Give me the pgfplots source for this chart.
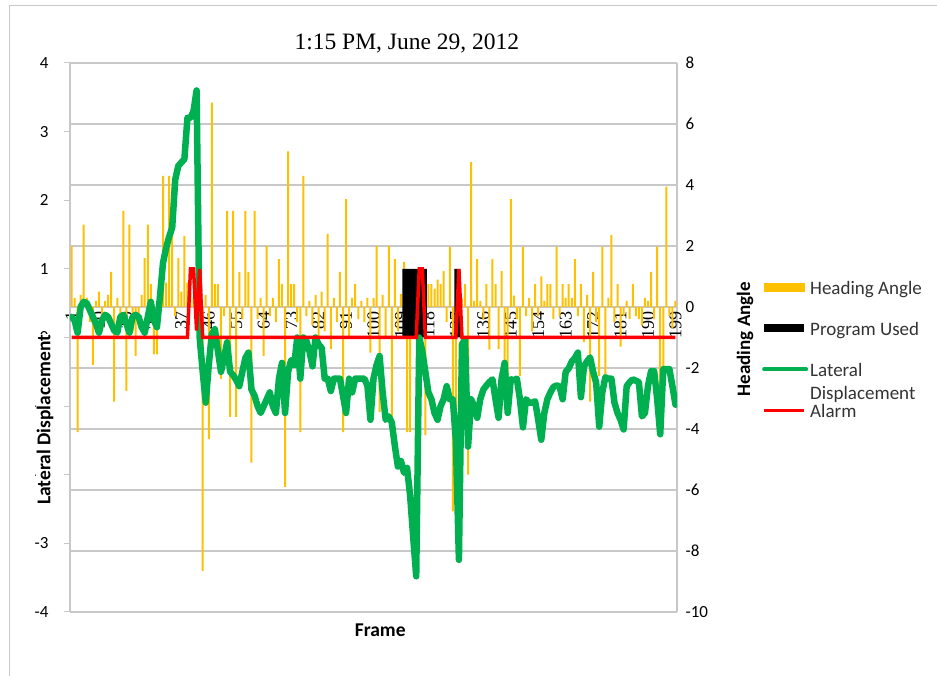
\documentclass[border=0pt]{standalone}
\usepackage{fontspec}
\setmainfont{Carlito}
\newfontfamily\timesfont{Liberation Serif}
\usepackage{pgfplots}
\pgfplotsset{compat=1.18}
\usepackage{pgfplotstable}

\definecolor{gridgray}{RGB}{200,200,200}
\definecolor{hcol}{RGB}{255,192,0}
\definecolor{lcol}{RGB}{0,176,80}
\definecolor{acol}{RGB}{255,0,0}

% frame, heading angle, lateral displacement
\pgfplotstableread{
f h l
1 2.0 0.30
2 0.3 0.25
3 -4.1 0.07
4 0.4 0.45
5 2.7 0.52
6 0.3 0.50
7 -0.5 0.40
8 -1.9 0.30
9 0.2 0.20
10 0.5 0.07
11 -0.3 0.25
12 0.2 0.33
13 0.4 0.30
14 1.15 0.20
15 -3.1 0.10
16 0.3 0.07
17 -0.4 0.30
18 3.15 0.33
19 -2.75 0.20
20 2.7 0.07
21 -0.8 0.30
22 -1.6 0.33
23 -0.6 0.30
24 0.4 0.15
25 1.6 0.07
26 2.7 0.30
27 0.75 0.52
28 -1.55 0.25
29 -1.55 0.15
30 0.3 0.60
31 4.3 1.09
32 0.8 1.30
33 4.3 1.47
34 3.9 1.60
35 -0.3 2.30
36 1.6 2.50
37 0.5 2.55
38 2.33 2.60
39 0.8 3.20
40 0.5 3.20
41 0.3 3.30
42 0.5 3.60
43 -0.5 0.00
44 -8.65 -0.50
45 0.4 -0.95
46 -4.33 -0.40
47 6.7 0.05
48 0.75 0.12
49 0.75 -0.20
50 -2.36 -0.50
51 -0.3 -0.30
52 3.15 -0.07
53 -3.6 -0.50
54 3.15 -0.55
55 -3.6 -0.62
56 1.15 -0.71
57 -0.4 -0.50
58 3.15 -0.30
59 1.15 -0.22
60 -5.1 -0.76
61 3.15 -0.85
62 -0.4 -1.00
63 0.3 -1.10
64 -1.6 -1.00
65 2.0 -0.90
66 -0.3 -0.80
67 0.3 -1.00
68 -0.5 -1.10
69 1.57 -0.60
70 0.75 -0.37
71 -5.9 -1.10
72 5.1 -0.50
73 0.75 -0.33
74 0.75 -0.40
75 -0.5 0.00
76 -4.1 -0.60
77 4.3 0.00
78 -0.3 -0.05
79 0.2 -0.20
80 -0.6 -0.42
81 0.4 0.00
82 -1.0 -0.10
83 0.5 -0.15
84 -0.8 -0.60
85 2.4 -0.60
86 -1.38 -0.78
87 0.3 -0.60
88 -0.5 -0.60
89 1.15 -0.60
90 -4.1 -0.85
91 3.54 -1.10
92 -1.0 -0.60
93 0.3 -0.80
94 0.75 -0.60
95 -0.4 -0.60
96 0.2 -0.60
97 -0.5 -0.60
98 0.3 -0.70
99 -1.5 -1.20
100 0.3 -0.60
101 2.0 -0.40
102 -3.45 -0.27
103 0.4 -0.80
104 -1.0 -1.20
105 2.0 -1.15
106 -4.0 -1.24
107 1.57 -1.58
108 -0.8 -1.88
109 0.43 -1.80
110 1.48 -1.97
111 -4.1 -1.90
112 -4.1 -2.30
113 0.5 -2.90
114 -0.5 -3.48
115 0.3 0.00
116 0.75 -0.20
117 -4.2 -0.50
118 0.75 -0.80
119 0.75 -0.90
120 0.6 -1.10
121 0.9 -1.20
122 0.75 -1.00
123 1.18 -0.90
124 -0.5 -0.71
125 1.97 -0.90
126 -6.7 -0.90
127 -4.2 -1.50
128 -0.5 -3.24
129 0.3 -0.10
130 0.75 -0.03
131 -5.5 -1.59
132 4.75 -0.90
133 0.2 -1.00
134 1.57 -1.17
135 0.2 -0.90
136 -0.4 -0.76
137 0.75 -0.70
138 -1.4 -0.65
139 1.57 -0.61
140 0.75 -0.90
141 -1.38 -1.17
142 1.18 -0.60
143 -1.9 -0.37
144 -3.5 -1.10
145 3.54 -0.61
146 0.37 -0.62
147 -0.4 -0.60
148 -2.26 -0.90
149 1.97 -1.31
150 -0.3 -0.90
151 0.3 -0.95
152 -0.8 -0.95
153 0.75 -0.93
154 -0.3 -1.20
155 1.0 -1.49
156 0.2 -1.10
157 0.75 -0.90
158 0.75 -0.80
159 -0.4 -0.72
160 1.97 -0.70
161 -0.3 -0.71
162 0.75 -0.90
163 0.3 -0.50
164 0.75 -0.45
165 0.3 -0.35
166 1.57 -0.30
167 -0.3 -0.22
168 0.75 -0.87
169 -1.15 -0.42
170 0.4 -0.35
171 -3.1 -0.29
172 1.15 -0.50
173 -0.5 -0.66
174 -2.26 -1.30
175 1.97 -0.80
176 -2.26 -0.58
177 0.3 -0.60
178 2.36 -0.60
179 -0.5 -0.95
180 0.75 -1.10
181 -1.3 -1.20
182 -0.3 -1.34
183 0.2 -0.71
184 -0.4 -0.65
185 0.75 -0.61
186 -0.3 -0.63
187 -0.4 -0.65
188 -0.6 -1.15
189 0.3 -1.10
190 0.2 -0.70
191 1.15 -0.49
192 -0.4 -0.49
193 1.97 -0.90
194 -4.1 -1.41
195 -2.36 -0.46
196 3.95 -0.46
197 -0.3 -0.46
198 -0.7 -0.71
199 0.2 -0.98
}\datatable

\begin{document}
\begin{tikzpicture}
\useasboundingbox (-70pt,-64pt) rectangle (867pt,612pt);
\draw[gridgray, line width=1pt] (-60pt,-64pt) |- (867pt,606pt);

% secondary axis: heading angle
\begin{axis}[
  at={(0pt,0pt)}, anchor=south west,
  scale only axis, width=607pt, height=549pt,
  xmin=0.5, xmax=199.5, ymin=-10, ymax=8,
  axis x line=middle, axis y line=right,
  axis line style={gridgray, line width=1.2pt, -},
  xtick={1,10,...,199},
  xtick style={draw=none},
  ytick={-10,-8,...,8},
  ytick style={draw=none},
  ymajorgrids, grid style={gridgray, line width=1.5pt},
  /pgf/number format/assume math mode=true,
  xticklabel style={rotate=90, anchor=east, inner sep=2pt,
    font=\timesfont\fontsize{18}{18}\selectfont},
  yticklabel style={anchor=west, xshift=3pt, font=\fontsize{17}{17}\selectfont},
  xlabel={Frame},
  xlabel style={at={(axis description cs:0.511,0)}, anchor=center, yshift=-18pt,
    font=\bfseries\fontsize{19.5}{19.5}\selectfont},
  ylabel={Heading Angle},
  ylabel style={at={(axis description cs:1.112,0.497)}, anchor=center,
    font=\bfseries\fontsize{19}{19}\selectfont},
  title={1:15 PM, June 29, 2012},
  title style={at={(axis description cs:0.555,1)}, anchor=center, yshift=13pt,
    font=\timesfont\fontsize{23.5}{23.5}\selectfont},
]
\addplot[ybar, bar width=2pt, fill=hcol, draw=none] table[x=f, y=h] {\datatable};
\end{axis}

% primary axis: lateral displacement, program used, alarm
\begin{axis}[
  at={(0pt,0pt)}, anchor=south west,
  scale only axis, width=607pt, height=549pt,
  xmin=0.5, xmax=199.5, ymin=-4, ymax=4,
  axis x line=none, axis y line=left,
  axis line style={gridgray, line width=1.2pt, -},
  ytick={-4,-3,...,4},
  tick align=outside, major tick length=6pt,
  ytick style={gridgray, line width=1pt},
  /pgf/number format/assume math mode=true,
  yticklabel style={xshift=-12pt, font=\fontsize{17}{17}\selectfont},
  ylabel={Lateral Displacement},
  ylabel style={at={(axis description cs:-0.0412,0.35)}, anchor=center,
    fill=white, inner sep=1pt, font=\bfseries\fontsize{19.5}{19.5}\selectfont},
  legend cell align=left,
  legend style={at={(1.140,0.601)}, anchor=north west, draw=none, fill=none,
    inner sep=0pt, row sep=25pt, column sep=2pt,
    nodes={text height=12pt, text depth=4pt, inner sep=0pt,
      font=\fontsize{19}{23}\selectfont, text=black!80}},
]
\addlegendimage{legend image code/.code={\fill[hcol] (0pt,-1pt) rectangle (40pt,7pt);}}
\addlegendentry{Heading Angle}
\addplot[ybar, bar width=3.05pt, fill=black, draw=none,
  legend image code/.code={\fill[black] (0pt,-1pt) rectangle (40pt,7pt);}]
  coordinates {(110,1)(111,1)(112,1)(113,1)(114,1)(115,1)(116,1)(117,1)(127,1)(128,1)};
\addlegendentry{Program Used}
\addplot[lcol, line width=6.5pt, line join=round, line cap=round,
  legend image code/.code={\draw[lcol, line width=4pt, line cap=round] (0pt,3pt) -- (42pt,3pt);}]
  table[x=f, y=l] {\datatable};
\addlegendentry{\begin{tabular}[t]{@{}l@{}}Lateral\\Displacement\end{tabular}}
\addplot[acol, line width=3.5pt, line join=miter,
  legend image code/.code={\draw[acol, line width=3pt] (0pt,3pt) -- (40pt,3pt);}]
  coordinates {(1,0)(39,0)(40,1)(41,1)(42,0.1)(43,1)(44,0)(114,0)(115,1)(116,1)(117,0)(127,0)(128,1)(129,0)(199,0)};
\addlegendentry{Alarm}
\end{axis}
\end{tikzpicture}
\end{document}
